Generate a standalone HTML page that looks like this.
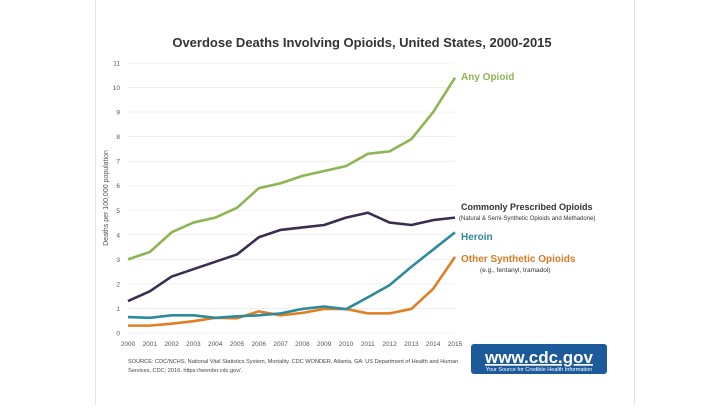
<!DOCTYPE html>
<html><head><meta charset="utf-8"><style>
body{margin:0;background:#fff;font-family:"Liberation Sans",sans-serif}
svg text{font-family:"Liberation Sans",sans-serif}
</style></head><body>
<svg width="720" height="405" viewBox="0 0 720 405">
<line x1="95.5" y1="0" x2="95.5" y2="405" stroke="#e4e4e4"/>
<line x1="634.5" y1="0" x2="634.5" y2="405" stroke="#e4e4e4"/>
<text x="362" y="47" text-anchor="middle" font-size="13" fill="#333" font-weight="bold">Overdose Deaths Involving Opioids, United States, 2000-2015</text>
<g id="grid"></g><g id="axes"></g><g id="lines"></g>
<text transform="translate(108,198) rotate(-90)" text-anchor="middle" font-size="7" fill="#555">Deaths per 100,000 population</text>
<text x="461" y="80" font-size="10" font-weight="bold" fill="#8db554">Any Opioid</text>
<text x="461" y="210" font-size="9" font-weight="bold" fill="#333">Commonly Prescribed Opioids</text>
<text x="459" y="220" font-size="6" fill="#333">(Natural &amp; Semi-Synthetic Opioids and Methadone)</text>
<text x="461" y="240" font-size="10" font-weight="bold" fill="#2e8a9a">Heroin</text>
<text x="461" y="262" font-size="10" font-weight="bold" fill="#d87a26">Other Synthetic Opioids</text>
<text x="480" y="272" font-size="6.5" fill="#333">(e.g., fentanyl, tramadol)</text>
<text x="128" y="363" font-size="5.6" fill="#444">SOURCE: CDC/NCHS, National Vital Statistics System, Mortality. CDC WONDER, Atlanta, GA: US Department of Health and Human</text>
<text x="128" y="372" font-size="5.6" fill="#444">Services, CDC; 2016. https://wonder.cdc.gov/.</text>
<g>
<rect x="471" y="344" width="136" height="30" rx="3" fill="#1c5a9c"/>
<text x="539" y="363" text-anchor="middle" font-size="17" font-weight="bold" fill="#fff" text-decoration="underline">www.cdc.gov</text>
<text x="539" y="371" text-anchor="middle" font-size="5.5" fill="#fff">Your Source for Credible Health Information</text>
</g>
</svg>
<script>
const years=[2000,2001,2002,2003,2004,2005,2006,2007,2008,2009,2010,2011,2012,2013,2014,2015];
const yTicks=[0,1,2,3,4,5,6,7,8,9,10,11];
const anyOpioid=[3.0,3.3,4.1,4.5,4.7,5.1,5.9,6.1,6.4,6.6,6.8,7.3,7.4,7.9,9.0,10.4];
const prescribed=[1.3,1.7,2.3,2.6,2.9,3.2,3.9,4.2,4.3,4.4,4.7,4.9,4.5,4.4,4.6,4.7];
const heroin=[0.65,0.62,0.72,0.72,0.62,0.68,0.72,0.8,0.98,1.08,0.97,1.45,1.95,2.7,3.4,4.1];
const otherSynthetic=[0.3,0.3,0.38,0.48,0.62,0.6,0.88,0.72,0.82,0.98,0.98,0.8,0.8,0.98,1.8,3.1];
const NS='http://www.w3.org/2000/svg';
const x0=128,x1=455,yb=333,yt=63;
const X=i=>x0+(x1-x0)*i/(years.length-1);
const Y=v=>yb-(yb-yt)*v/11;
const grid=document.getElementById('grid'),axes=document.getElementById('axes'),lines=document.getElementById('lines');
yTicks.forEach(t=>{
 const l=document.createElementNS(NS,'line');
 
 
 l.setAttribute('x1',x0);l.setAttribute('x2',x1);l.setAttribute('y1',Y(t));l.setAttribute('y2',Y(t));
 l.setAttribute('stroke','#ececec');l.setAttribute('stroke-width','0.8');grid.appendChild(l);
 const tx=document.createElementNS(NS,'text');
 
 
 tx.setAttribute('x',x0-8);tx.setAttribute('y',Y(t)+2.5);tx.setAttribute('text-anchor','end');
 tx.setAttribute('font-size','6.5');tx.setAttribute('fill','#555');tx.textContent=t;axes.appendChild(tx);
});
years.forEach((yr,i)=>{
 const tx=document.createElementNS(NS,'text');
 
 
 tx.setAttribute('x',X(i));tx.setAttribute('y',yb+13);tx.setAttribute('text-anchor','middle');
 tx.setAttribute('font-size','6.5');tx.setAttribute('fill','#555');tx.textContent=yr;axes.appendChild(tx);
});
[[otherSynthetic,'#e07f22','series-other-synthetic'],[heroin,'#2e8a9a','series-heroin'],[prescribed,'#3a2d4d','series-prescribed'],[anyOpioid,'#8db554','series-any-opioid']].forEach(([d,c,n])=>{
 const p=document.createElementNS(NS,'polyline');
 
 
 p.setAttribute('points',d.map((v,i)=>X(i)+','+Y(v)).join(' '));
 p.setAttribute('fill','none');p.setAttribute('stroke',c);p.setAttribute('stroke-width','2.6');p.setAttribute('stroke-linejoin','round');
 lines.appendChild(p);
});
</script>
</body></html>
